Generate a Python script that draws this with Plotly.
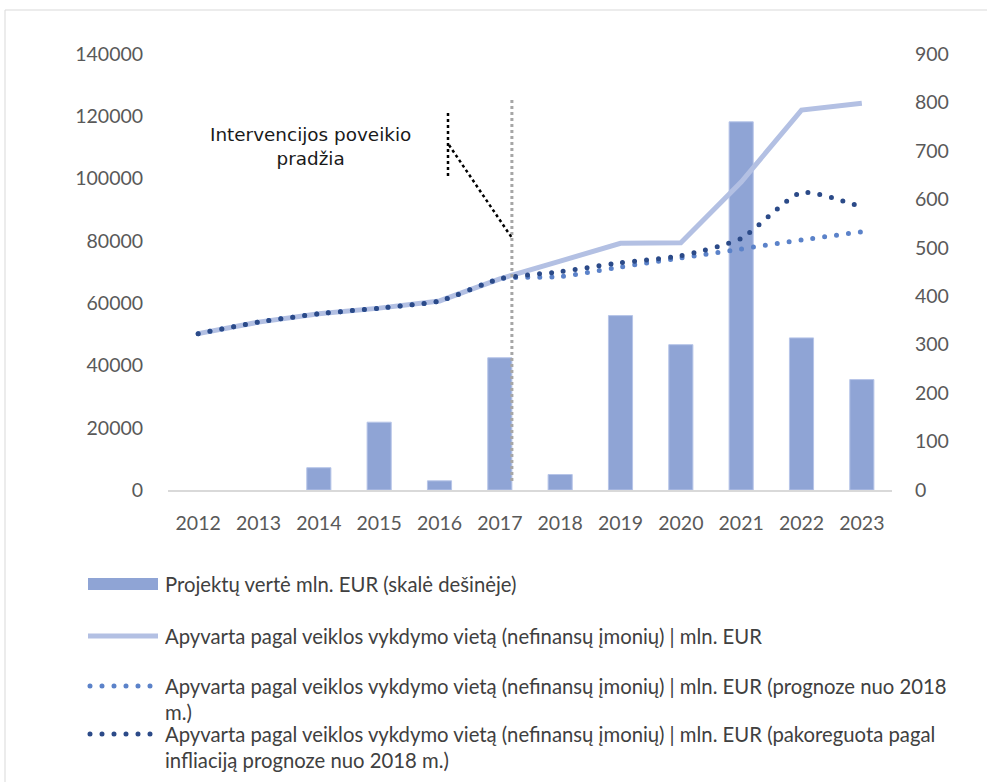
import plotly.graph_objects as go

# ---- data -------------------------------------------------------------
years = ["2012", "2013", "2014", "2015", "2016", "2017",
         "2018", "2019", "2020", "2021", "2022", "2023"]

# project value, mln. EUR (right-hand scale)
project_value = [None, None, 46, 140, 19, 273, 32, 360, 300, 760, 314, 228]

# turnover by place of activity (non-financial enterprises), mln. EUR
turnover = [50200, 53900, 56600, 58400, 60700, 67800,
            73500, 79200, 79400, 98900, 122000, 124200]
# forecast from 2018
turnover_forecast = [50200, 53900, 56600, 58400, 60700, 67800,
                     68500, 71600, 74500, 77400, 80300, 82900]
# inflation-adjusted forecast from 2018
turnover_infl = [50200, 53900, 56600, 58400, 60700, 67800,
                 70100, 73000, 75200, 80800, 95500, 90800]

left_ticks = [0, 20000, 40000, 60000, 80000, 100000, 120000, 140000]
right_ticks = [0, 100, 200, 300, 400, 500, 600, 700, 800, 900]

names = [
    "Projektų vertė mln. EUR (skalė dešinėje)",
    "Apyvarta pagal veiklos vykdymo vietą (nefinansų įmonių) | mln. EUR",
    "Apyvarta pagal veiklos vykdymo vietą (nefinansų įmonių) | mln. EUR (prognoze nuo 2018<br>m.)",
    "Apyvarta pagal veiklos vykdymo vietą (nefinansų įmonių) | mln. EUR (pakoreguota pagal<br>infliaciją prognoze nuo 2018 m.)",
]
callout_text = "Intervencijos poveikio<br>pradžia"
intervention_pos = 5.2  # just after 2017 on the category axis

# ---- styling ----------------------------------------------------------
C_BAR = "#8fa4d5"
C_BAR_EDGE = "#b7c5e8"
C_SOLID = "#b3c0e3"
C_LIGHT = "#5b82c9"
C_DARK = "#2b4a88"
TXT = "#595959"
FONT = "Lato"
TICK_SIZE = 19.5
LEG_SIZE = 20.3

W, H = 987, 782
L, R, T, B = 168, 95, 54, 292
PW, PH = W - L - R, H - T - B


def px(x):
    return (x - L) / PW


def py(y):
    return (H - B - y) / PH


DOTS = "0px,12px"

fig = go.Figure()

fig.add_trace(go.Bar(
    x=years, y=project_value, name=names[0], yaxis="y",
    marker=dict(color=C_BAR, line=dict(color=C_BAR_EDGE, width=1)),
    width=0.4,
))
fig.add_trace(go.Scatter(
    x=years, y=turnover, name=names[1], yaxis="y2", mode="lines",
    line=dict(color=C_SOLID, width=5),
))
fig.add_trace(go.Scatter(
    x=years, y=turnover_forecast, name=names[2], yaxis="y2", mode="lines",
    line=dict(color=C_LIGHT, width=5, dash=DOTS, shape="spline", smoothing=0.6),
))
fig.add_trace(go.Scatter(
    x=years, y=turnover_infl, name=names[3], yaxis="y2", mode="lines",
    line=dict(color=C_DARK, width=5, dash=DOTS, shape="spline", smoothing=0.6),
))

shapes = []
# chart frame
shapes.append(dict(type="rect", xref="paper", yref="paper",
                   x0=px(5), x1=px(995), y0=py(800), y1=py(10),
                   line=dict(color="#d9d9d9", width=1), layer="below"))
# intervention start marker
shapes.append(dict(type="line", xref="x", yref="paper",
                   x0=intervention_pos, x1=intervention_pos,
                   y0=py(481), y1=py(97),
                   line=dict(color="#a6a6a6", width=3, dash="dot")))
# callout leader
shapes.append(dict(type="line", xref="paper", yref="paper",
                   x0=px(448), x1=px(448), y0=py(176), y1=py(110),
                   line=dict(color="#000000", width=2.5, dash="dot")))
shapes.append(dict(type="line", xref="paper", yref="paper",
                   x0=px(449), x1=px(512), y0=py(145), y1=py(238),
                   line=dict(color="#000000", width=2.5, dash="dot")))

# legend keys
sym_x0, sym_x1 = px(88), px(158)
shapes.append(dict(type="rect", xref="paper", yref="paper",
                   x0=sym_x0, x1=sym_x1, y0=py(590), y1=py(578),
                   fillcolor=C_BAR, line=dict(width=0)))
shapes.append(dict(type="line", xref="paper", yref="paper",
                   x0=sym_x0, x1=sym_x1, y0=py(636), y1=py(636),
                   line=dict(color=C_SOLID, width=5)))
shapes.append(dict(type="line", xref="paper", yref="paper",
                   x0=px(90), x1=sym_x1, y0=py(686), y1=py(686),
                   line=dict(color=C_LIGHT, width=5, dash=DOTS)))
shapes.append(dict(type="line", xref="paper", yref="paper",
                   x0=px(90), x1=sym_x1, y0=py(734), y1=py(734),
                   line=dict(color=C_DARK, width=5, dash=DOTS)))

annotations = [
    dict(text=callout_text, xref="paper", yref="paper", x=px(310), y=py(146),
         xanchor="center", yanchor="middle", align="center", showarrow=False,
         font=dict(family="DejaVu Sans", size=18.4, color="#1a1a1a")),
]
legend_rows = [(584, 0), (636, 1), (686, 2), (734, 3)]
for ycenter, i in legend_rows:
    annotations.append(dict(
        text=names[i], xref="paper", yref="paper", x=px(163),
        y=py(ycenter - 14),
        xanchor="left", yanchor="top", align="left", showarrow=False,
        font=dict(family=FONT, size=LEG_SIZE, color="#404040"),
    ))

tickfont = dict(family=FONT, size=TICK_SIZE, color=TXT)
fig.update_layout(
    width=W, height=H,
    margin=dict(l=L, r=R, t=T, b=B, pad=0),
    paper_bgcolor="white", plot_bgcolor="white",
    showlegend=False,
    font=dict(family=FONT, size=TICK_SIZE, color=TXT),
    xaxis=dict(type="category", showgrid=False, showline=True,
               linecolor="#d9d9d9", linewidth=1.5,
               ticks="outside", ticklen=15, tickcolor="rgba(0,0,0,0)",
               tickfont=tickfont),
    yaxis=dict(side="right", range=[0, 900], tickvals=right_ticks,
               showgrid=False, zeroline=False, showline=False,
               ticks="outside", ticklen=18, tickcolor="rgba(0,0,0,0)",
               tickfont=tickfont),
    yaxis2=dict(side="left", overlaying="y", range=[0, 140000],
                tickvals=left_ticks, showgrid=False, zeroline=False,
                showline=False, ticks="outside", ticklen=20,
                tickcolor="rgba(0,0,0,0)", tickformat="d",
                tickfont=tickfont),
    shapes=shapes,
    annotations=annotations,
)

# round caps turn zero-length dashes into round dots
post = """
var gd = document.getElementById('{plot_id}');
function roundDots() {
  document.querySelectorAll('path').forEach(function (p) {
    var d = (p.style.strokeDasharray || '').trim();
    if (d.indexOf('0') === 0) { p.style.strokeLinecap = 'round'; }
  });
}
roundDots();
if (gd && gd.on) { gd.on('plotly_afterplot', roundDots); }
setTimeout(roundDots, 50);
setTimeout(roundDots, 300);
"""

fig.write_html("out.html", post_script=post)
